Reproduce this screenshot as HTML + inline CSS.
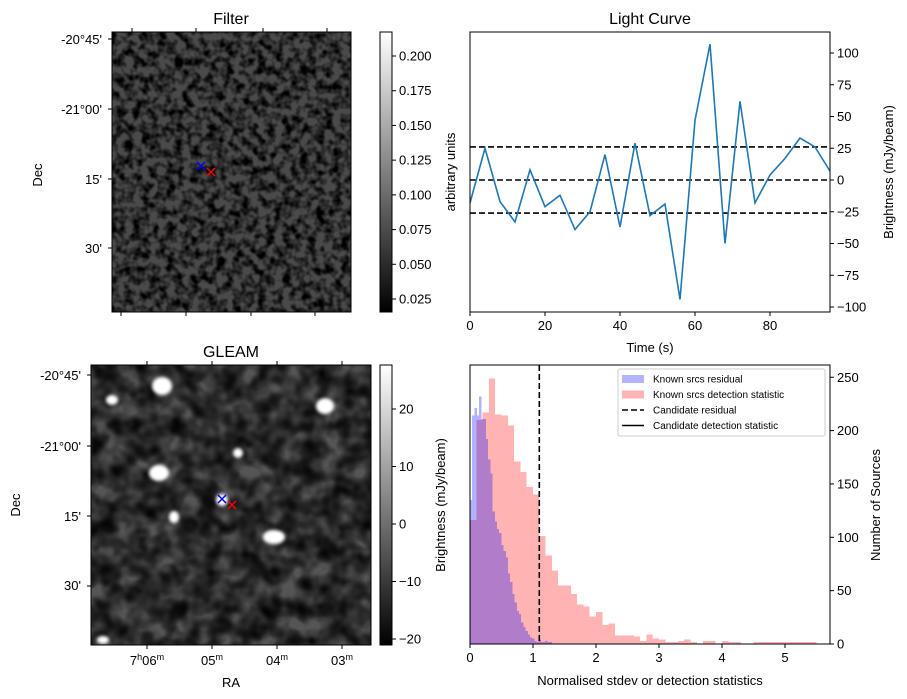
<!DOCTYPE html>
<html><head><meta charset="utf-8">
<style>
html,body{margin:0;padding:0;background:#fff;}
svg{display:block;font-family:"Liberation Sans","DejaVu Sans",sans-serif;}
</style></head>
<body>
<svg id="fig" width="907" height="699" viewBox="0 0 907 699" xmlns="http://www.w3.org/2000/svg">
<defs>
<filter id="noiseF" x="0" y="0" width="100%" height="100%" color-interpolation-filters="sRGB">
<feTurbulence type="fractalNoise" baseFrequency="0.12" numOctaves="2" seed="3"/>
<feColorMatrix type="matrix" values="0 0 0 0 0  0 0 0 0 0  0 0 0 0 0  2.6 0 0 0 -0.95"/>
</filter>
<filter id="noiseG" x="0" y="0" width="100%" height="100%">
<feTurbulence type="fractalNoise" baseFrequency="0.05" numOctaves="2" seed="11"/>
<feColorMatrix type="matrix" values="0 0 0 0 0  0 0 0 0 0  0 0 0 0 0  1.8 0 0 0 -0.6"/>
</filter>
<filter id="noiseG2" x="0" y="0" width="100%" height="100%">
<feTurbulence type="fractalNoise" baseFrequency="0.06" numOctaves="2" seed="27"/>
<feColorMatrix type="matrix" values="0 0 0 0 0  0 0 0 0 0  0 0 0 0 0  1.8 0 0 0 -0.65"/>
</filter>
<filter id="blur2"><feGaussianBlur stdDeviation="1.5"/></filter>
<linearGradient id="cbar" x1="0" y1="1" x2="0" y2="0"><stop offset="0" stop-color="#000"/><stop offset="1" stop-color="#fff"/></linearGradient>
</defs>

<g>
<text x="231" y="24" font-size="16" text-anchor="middle">Filter</text>
<rect x="112" y="32" width="239" height="280" fill="#4a4a4a"/>
<rect x="112" y="32" width="239" height="280" fill="#e8e8e8" filter="url(#noiseF)"/>
<rect x="112" y="32" width="239" height="280" fill="none" stroke="#000" stroke-width="1"/>
<g font-size="13" text-anchor="end">
<text x="102" y="44">-20°45'</text>
<text x="102" y="114">-21°00'</text>
<text x="102" y="184">15'</text>
<text x="102" y="253">30'</text>
</g>
<text transform="translate(42,175) rotate(-90)" font-size="13" text-anchor="middle">Dec</text>
<path d="M197,162 l8,8 M205,162 l-8,8" stroke="#00f" stroke-width="1.5"/>
<path d="M207,168 l8,8 M215,168 l-8,8" stroke="#f00" stroke-width="1.5"/>
<rect x="380" y="32" width="12" height="280" fill="url(#cbar)" stroke="#000" stroke-width="1"/>
<g id="cbF" font-size="13"></g>
<text transform="translate(455,172) rotate(-90)" font-size="13" text-anchor="middle">arbitrary units</text>
</g>

<g>
<text x="231" y="357" font-size="16" text-anchor="middle">GLEAM</text>
<rect x="91" y="365" width="280" height="280" fill="#555"/>
<rect x="91" y="365" width="280" height="280" fill="#d0d0d0" filter="url(#noiseG)"/>
<rect x="91" y="365" width="280" height="280" fill="#000" filter="url(#noiseG2)"/>
<g fill="#fff" filter="url(#blur2)">
<ellipse cx="162" cy="386" rx="10" ry="9"/>
<ellipse cx="112" cy="400" rx="6" ry="5"/>
<ellipse cx="325" cy="406" rx="9" ry="8"/>
<ellipse cx="238" cy="453" rx="5" ry="5"/>
<ellipse cx="159" cy="473" rx="10" ry="8"/>
<ellipse cx="222" cy="500" rx="6" ry="6"/>
<ellipse cx="174" cy="517" rx="5" ry="6"/>
<ellipse cx="274" cy="537" rx="11" ry="7"/>
<ellipse cx="103" cy="640" rx="6" ry="4"/>
</g>
<rect x="91" y="365" width="280" height="280" fill="none" stroke="#000" stroke-width="1"/>
<g font-size="13" text-anchor="end">
<text x="81" y="380">-20°45'</text>
<text x="81" y="451">-21°00'</text>
<text x="81" y="521">15'</text>
<text x="81" y="590">30'</text>
</g>
<g font-size="13" text-anchor="middle">
<text x="147" y="665">7<tspan font-size="9" dy="-5">h</tspan><tspan dy="5">06</tspan><tspan font-size="9" dy="-5">m</tspan></text>
<text x="212" y="665">05<tspan font-size="9" dy="-5">m</tspan></text>
<text x="277" y="665">04<tspan font-size="9" dy="-5">m</tspan></text>
<text x="342" y="665">03<tspan font-size="9" dy="-5">m</tspan></text>
</g>
<text x="231" y="687" font-size="13" text-anchor="middle">RA</text>
<text transform="translate(20,505) rotate(-90)" font-size="13" text-anchor="middle">Dec</text>
<path d="M218,495 l8,8 M226,495 l-8,8" stroke="#00f" stroke-width="1.5"/>
<path d="M228,501 l8,8 M236,501 l-8,8" stroke="#f00" stroke-width="1.5"/>
<rect x="380" y="365" width="12" height="280" fill="url(#cbar)" stroke="#000" stroke-width="1"/>
<g id="cbG" font-size="13"></g>
<text transform="translate(445,505) rotate(-90)" font-size="13" text-anchor="middle">Brightness (mJy/beam)</text>
</g>

<g id="lc">
<text x="650" y="24" font-size="16" text-anchor="middle">Light Curve</text>
<text x="650" y="352" font-size="13" text-anchor="middle">Time (s)</text>
<text transform="translate(893,172) rotate(-90)" font-size="13" text-anchor="middle">Brightness (mJy/beam)</text>
</g>

<g id="hist">
<text x="650" y="685" font-size="13" text-anchor="middle">Normalised stdev or detection statistics</text>
<text transform="translate(880,505) rotate(-90)" font-size="13" text-anchor="middle">Number of Sources</text>
</g>
</svg>
<script>
// Light curve data
const lcTimes = [0,4,8,12,16,20,24,28,32,36,40,44,48,52,56,60,64,68,72,76,80,84,88,92,96];
const lcValues = [-18,25,-17,-33,8,-21,-12,-39,-25,20,-37,29,-28,-19,-94,47,107,-50,62,-18,4,17,33,26,7];
const lcThresholds = [26,0,-26];
const lcXTicks = [0,20,40,60,80];
const lcYTicks = [100,75,50,25,0,-25,-50,-75,-100];

// Histogram data
const redBinWidth = 0.1;
const redCounts = [116,210,217,249,215,214,205,171,161,147,140,101,83,69,55,55,47,37,35,26,30,18,19,8,8,8,7,3,9,5,4,2,2,3,4,2,0,3,3,0,3,2,2,0,0,2,2,2,2,2,2,2,2,2,2];
const blueBinWidth = 0.035;
const blueCounts = [135,214,221,214,232,211,211,192,173,160,124,115,108,104,93,87,81,66,58,47,39,31,28,20,16,12,9,6,5,3,2,4,2,2,3,2,2,0];
const candidateValue = 1.1;
const histXTicks = [0,1,2,3,4,5];
const histYTicks = [0,50,100,150,200,250];

// Colorbar ticks
const filterCbTicks = [0.025,0.05,0.075,0.1,0.125,0.15,0.175,0.2];
const gleamCbTicks = [-20,-10,0,10,20];

const NS='http://www.w3.org/2000/svg';
function mk(parent,tag,attrs,text){const e=document.createElementNS(NS,tag);for(const k in attrs)e.setAttribute(k,attrs[k]);if(text!==undefined)e.textContent=text;parent.appendChild(e);return e;}

(function(){
 const gF=document.getElementById('cbF');
 const fy=v=>299-(v-0.025)*(243/0.175);
 filterCbTicks.forEach(v=>{
  mk(gF,'line',{x1:392,x2:396,y1:fy(v),y2:fy(v),stroke:'#000'});
  const t=mk(gF,'text',{x:399,y:fy(v)+4.5},v.toFixed(3));
  
  
 });
 const gG=document.getElementById('cbG');
 const gy=v=>524-v*5.75;
 gleamCbTicks.forEach(v=>{
  mk(gG,'line',{x1:392,x2:396,y1:gy(v),y2:gy(v),stroke:'#000'});
  const t=mk(gG,'text',{x:399,y:gy(v)+4.5},v<0?'\u2212'+(-v):String(v));
  
  
 });
})();

(function(){
 const g=document.getElementById('lc');
 const X0=470,X1=830,Y0=32,Y1=312;
 const xs=t=>X0+t*(X1-X0)/96;
 const ys=v=>180-v*1.27;
 lcThresholds.forEach(v=>{
  const l=mk(g,'line',{x1:X0,x2:X1,y1:ys(v),y2:ys(v),stroke:'#000','stroke-width':1.6,'stroke-dasharray':'6,3'});
  
  
 });
 const pts=lcTimes.map((t,i)=>xs(t)+','+ys(lcValues[i])).join(' ');
 const pl=mk(g,'polyline',{points:pts,fill:'none',stroke:'#1f77b4','stroke-width':1.6});
 
 
 mk(g,'rect',{x:X0,y:Y0,width:X1-X0,height:Y1-Y0,fill:'none',stroke:'#000'});
 lcXTicks.forEach(v=>{
  mk(g,'line',{x1:xs(v),x2:xs(v),y1:Y1,y2:Y1+4,stroke:'#000'});
  const t=mk(g,'text',{x:xs(v),y:Y1+18,'font-size':13,'text-anchor':'middle'},String(v));
  
  
 });
 lcYTicks.forEach(v=>{
  mk(g,'line',{x1:X1,x2:X1+4,y1:ys(v),y2:ys(v),stroke:'#000'});
  const t=mk(g,'text',{x:X1+7,y:ys(v)+4.5,'font-size':13},v<0?'\u2212'+(-v):String(v));
  
  
 });
})();

(function(){
 const g=document.getElementById('hist');
 const X0=470,X1=830,Y0=365,Y1=644;
 const xs=v=>X0+v*63;
 const ys=c=>Y1-c*1.067;
 redCounts.forEach((c,i)=>{
  if(c<=0)return;
  const r=mk(g,'rect',{x:xs(i*redBinWidth),y:ys(c),width:redBinWidth*63,height:Y1-ys(c),fill:'#ffb3b3','shape-rendering':'crispEdges'});
  
  
 });
 const bg=mk(g,'g',{opacity:0.3});
 blueCounts.forEach((c,i)=>{
  if(c<=0)return;
  const r=mk(bg,'rect',{x:xs(i*blueBinWidth),y:ys(c),width:blueBinWidth*63+0.5,height:Y1-ys(c),fill:'#0000ff','shape-rendering':'crispEdges'});
  
  
 });
 const cl=mk(g,'line',{x1:xs(candidateValue),x2:xs(candidateValue),y1:Y0,y2:Y1,stroke:'#000','stroke-width':1.6,'stroke-dasharray':'6,3'});
 
 
 mk(g,'rect',{x:X0,y:Y0,width:X1-X0,height:Y1-Y0,fill:'none',stroke:'#000'});
 histXTicks.forEach(v=>{
  mk(g,'line',{x1:xs(v),x2:xs(v),y1:Y1,y2:Y1+4,stroke:'#000'});
  const t=mk(g,'text',{x:xs(v),y:Y1+18,'font-size':13,'text-anchor':'middle'},String(v));
  
  
 });
 histYTicks.forEach(v=>{
  mk(g,'line',{x1:X1,x2:X1+4,y1:ys(v),y2:ys(v),stroke:'#000'});
  const t=mk(g,'text',{x:X1+7,y:ys(v)+4.5,'font-size':13},String(v));
  
  
 });
 const lg=mk(g,'g',{});
 
 
 mk(lg,'rect',{x:618,y:369,width:207,height:67,rx:2,fill:'#fff','fill-opacity':0.8,stroke:'#ccc'});
 const items=[['Known srcs residual','blue'],['Known srcs detection statistic','red'],['Candidate residual','dash'],['Candidate detection statistic','solid']];
 items.forEach((it,i)=>{
  const y=379+i*15.5;
  if(it[1]==='blue')mk(lg,'rect',{x:622,y:y-4,width:22,height:8,fill:'#b3b3ff'});
  else if(it[1]==='red')mk(lg,'rect',{x:622,y:y-4,width:22,height:8,fill:'#ffb3b3'});
  else if(it[1]==='dash')mk(lg,'line',{x1:622,x2:644,y1:y,y2:y,stroke:'#000','stroke-width':1.6,'stroke-dasharray':'6,3'});
  else mk(lg,'line',{x1:622,x2:644,y1:y,y2:y,stroke:'#000','stroke-width':1.6});
  const t=mk(lg,'text',{x:653,y:y+3.5,'font-size':10},it[0]);
  
  
 });
})();

(function(){
 const f=document.getElementById('fig');
 [[112,39],[112,109],[112,179],[112,248]].forEach(p=>mk(f,'line',{x1:p[0]-4,x2:p[0],y1:p[1],y2:p[1],stroke:'#000'}));
 [[91,375],[91,446],[91,516],[91,586]].forEach(p=>mk(f,'line',{x1:p[0]-4,x2:p[0],y1:p[1],y2:p[1],stroke:'#000'}));
 [121,186,251,315].forEach(x=>mk(f,'line',{x1:x,x2:x,y1:312,y2:316,stroke:'#000'}));
 [132,196,263,327].forEach(x=>mk(f,'line',{x1:x,x2:x,y1:28,y2:32,stroke:'#000'}));
 [147,212,277,342].forEach(x=>{mk(f,'line',{x1:x,x2:x,y1:645,y2:649,stroke:'#000'});mk(f,'line',{x1:x,x2:x,y1:361,y2:365,stroke:'#000'});});
})();
</script>
</body></html>
